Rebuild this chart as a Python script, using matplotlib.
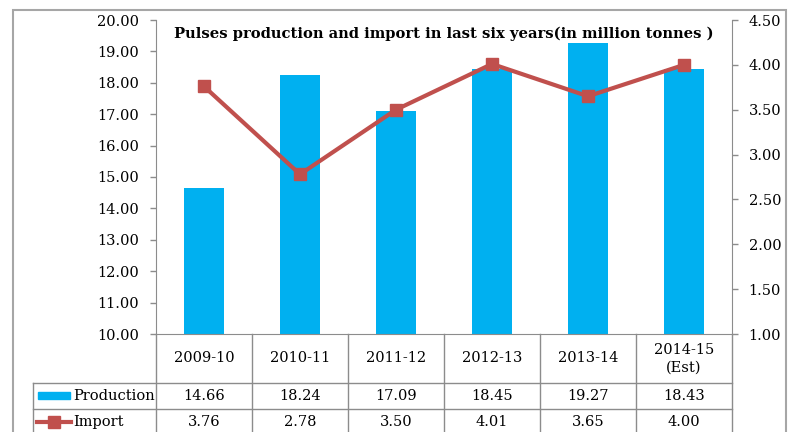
import matplotlib.pyplot as plt
from matplotlib.lines import Line2D
from matplotlib.patches import Rectangle

years = ['2009-10', '2010-11', '2011-12', '2012-13', '2013-14', '2014-15\n(Est)']
production = [14.66, 18.24, 17.09, 18.45, 19.27, 18.43]
imports = [3.76, 2.78, 3.50, 4.01, 3.65, 4.00]

bar_color = '#00B0F0'
line_color = '#C0504D'
grid_color = '#8C8C8C'

plt.rcParams['font.family'] = ['DejaVu Serif']

W, H = 793, 432
fig = plt.figure(figsize=(W / 100, H / 100), dpi=100)


def fx(px):
    return px / W


def fy(py):
    return 1 - py / H


# plot area in pixels
x0, x1, y0, y1 = 156, 732, 20, 334
ax = fig.add_axes([fx(x0), fy(y1), fx(x1) - fx(x0), fy(y0) - fy(y1)])
ax2 = ax.twinx()

n = len(years)
pos = list(range(n))
ax.bar(pos, production, width=0.41, color=bar_color, zorder=2)
ax.set_xlim(-0.5, n - 0.5)
ax.set_ylim(10, 20)
ax.set_yticks([10 + i for i in range(11)])
ax.set_yticklabels(['%.2f' % (10 + i) for i in range(11)], fontsize=10.5)
ax.set_xticks([])

ax2.plot(pos, imports, color=line_color, lw=3, marker='s', ms=8,
         markeredgecolor=line_color, zorder=3)
ax2.set_ylim(1, 4.5)
ax2.set_yticks([1 + 0.5 * i for i in range(8)])
ax2.set_yticklabels(['%.2f' % (1 + 0.5 * i) for i in range(8)], fontsize=10.5)

for a in (ax, ax2):
    a.set_facecolor('none')
    a.spines['top'].set_visible(False)
    a.tick_params(length=4, width=1, color=grid_color, pad=8)
ax.spines['right'].set_visible(False)
ax.spines['left'].set_color(grid_color)
ax.spines['bottom'].set_color(grid_color)
ax2.spines['left'].set_visible(False)
ax2.spines['bottom'].set_visible(False)
ax2.spines['right'].set_color(grid_color)

ax.text(0.5, 0.955, 'Pulses production and import in last six years(in million tonnes )',
        transform=ax.transAxes, ha='center', va='center',
        fontsize=10.6, fontweight='bold', zorder=5)


# data table under the plot
def hline(xa, xb, y):
    fig.add_artist(Line2D([fx(xa), fx(xb)], [fy(y), fy(y)], color=grid_color, lw=1))


def vline(x, ya, yb):
    fig.add_artist(Line2D([fx(x), fx(x)], [fy(ya), fy(yb)], color=grid_color, lw=1))


col_w = (x1 - x0) / n
row_head, row_prod, row_imp, row_end = 334, 383, 409, 436
for k in range(n + 1):
    vline(x0 + k * col_w, row_head, row_end)
vline(33, row_prod, row_end)
hline(33, x1, row_prod)
hline(33, x1, row_imp)
hline(33, x1, row_end)

for k in range(n):
    cx = fx(x0 + (k + 0.5) * col_w)
    fig.text(cx, fy((row_head + row_prod) / 2), years[k], ha='center', va='center',
             fontsize=10.5, linespacing=1.35)
    fig.text(cx, fy((row_prod + row_imp) / 2), '%.2f' % production[k],
             ha='center', va='center', fontsize=10.5)
    fig.text(cx, fy((row_imp + row_end) / 2), '%.2f' % imports[k],
             ha='center', va='center', fontsize=10.5)

# legend keys in the first column
fig.add_artist(Rectangle((fx(38), fy(399)), fx(70) - fx(38), fy(392) - fy(399),
                         transform=fig.transFigure, color=bar_color))
fig.text(fx(73), fy(396), 'Production', ha='left', va='center', fontsize=10.5)
fig.add_artist(Line2D([fx(37), fx(71)], [fy(422), fy(422)], color=line_color, lw=3))
fig.add_artist(Line2D([fx(54)], [fy(422)], color=line_color, marker='s', ms=8, lw=0))
fig.text(fx(73), fy(422), 'Import', ha='left', va='center', fontsize=10.5)

# chart border
fig.add_artist(Rectangle((fx(13), fy(440)), fx(786) - fx(13), fy(10) - fy(440),
                         transform=fig.transFigure, fill=False,
                         edgecolor='#A6A6A6', lw=1.5))

fig.savefig('out.png', dpi=100)
